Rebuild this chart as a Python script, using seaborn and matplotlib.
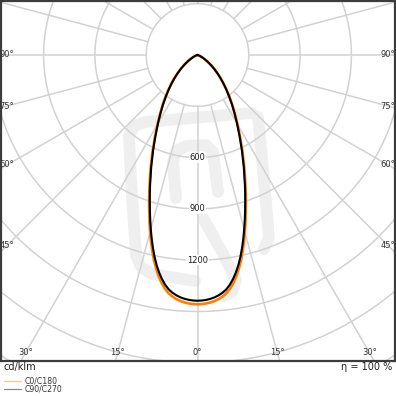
import numpy as np
import pandas as pd
import matplotlib
matplotlib.use("Agg")
import matplotlib.pyplot as plt
import seaborn as sns
from matplotlib.lines import Line2D

# ---------------- data (cd/klm) ----------------
angles = [0, 1, 2, 3, 4, 5, 6, 7, 8, 9, 10, 11, 12, 13, 14, 15, 16, 17, 18, 19, 20,
          22.5, 25, 27.5, 30, 32.5, 35, 37.5, 40, 42.5, 45, 47.5, 50, 52.5, 55, 57.5,
          60, 62.5, 65, 67.5, 70, 72.5, 75, 80, 85, 90]
c0_c180 = [1458, 1457, 1454, 1449, 1442, 1432, 1419, 1402, 1378, 1348, 1312, 1271, 1226,
           1176, 1124, 1071, 1018, 966, 916, 868, 822,
           717, 622, 539, 468, 407, 355, 306, 264, 225, 191, 159, 131, 106, 83, 64,
           48, 35, 24, 16, 10, 6, 3, 1, 0, 0]
c90_c270 = [1437, 1436, 1433, 1428, 1421, 1411, 1398, 1381, 1357, 1327, 1292, 1252, 1207,
            1158, 1107, 1055, 1003, 952, 903, 856, 811,
            707, 614, 532, 462, 402, 350, 302, 260, 222, 188, 157, 129, 104, 82, 63,
            47, 34, 24, 16, 10, 6, 3, 1, 0, 0]
series_names = ["C0/C180", "C90/C270"]
series_colors = ["#ff8000", "#000000"]
legend_colors = ["#ffc58a", "#8a8a8a"]
ring_values = [300, 600, 900, 1200, 1500, 1800, 2100, 2400, 2700, 3000]
ring_labels = [600, 900, 1200]
bottom_angle_labels = [0, 15, 30]
side_angle_labels = [45, 60, 75, 90]
unit_label = "cd/klm"
efficiency_label = "η = 100 %"

# ---------------- figure geometry ----------------
W = H = 396
DPI = 100
K = 0.171            # pixels per cd/klm
CX, CY = 197.5, 55.0  # pixel position of polar centre
FL, FR, FT, FB = 1, 395, 1, 361  # frame in pixels (top-left origin)

sns.set_style("white")
plt.rcParams["font.family"] = ["DejaVu Sans"]

fig = plt.figure(figsize=(W / DPI, H / DPI), dpi=DPI)
ax = fig.add_axes([FL / W, 1 - FB / H, (FR - FL) / W, (FB - FT) / H])
ax.set_xlim((FL - CX) / K, (FR - CX) / K)
ax.set_ylim(-(FB - CY) / K, (CY - FT) / K)
ax.set_xticks([])
ax.set_yticks([])
for s in ax.spines.values():
    s.set_color("#3c3c3c")
    s.set_linewidth(1.6)
    s.set_zorder(10)


def px2data(px, py):
    return (px - CX) / K, -(py - CY) / K


# ---------------- faint watermark ----------------
wm_paths = [
    [(252, 113), (145, 122), (134, 126), (129, 136), (131, 180), (136, 255), (141, 267),
     (152, 274), (195, 281)],
    [(258, 117), (264, 180), (269, 238), (264, 249)],
    [(176, 198), (173, 162), (176, 151), (186, 146), (206, 145), (213, 152), (218, 192)],
    [(203, 218), (222, 252), (236, 280), (232, 292), (224, 296)],
]
for path in wm_paths:
    pts = np.array([px2data(*p) for p in path])
    ax.plot(pts[:, 0], pts[:, 1], color="#efefef", lw=8.5,
            solid_capstyle="round", solid_joinstyle="round", zorder=0.5)

# ---------------- polar grid ----------------
t = np.radians(np.linspace(0, 360, 721))
for r in ring_values:
    ax.plot(r * np.sin(t), -r * np.cos(t), color="#d2d2d2", lw=1.1, zorder=1)
for a in range(0, 360, 15):
    ar = np.radians(a)
    ax.plot([300 * np.sin(ar), 3000 * np.sin(ar)],
            [-300 * np.cos(ar), -3000 * np.cos(ar)],
            color="#d2d2d2", lw=1.1, zorder=1)

# ---------------- curves ----------------
rows = []
for name, vals in zip(series_names, [c0_c180, c90_c270]):
    th = [-a for a in angles[::-1]] + angles[1:]
    iv = vals[::-1] + vals[1:]
    for a, v in zip(th, iv):
        rr = np.radians(a)
        rows.append({"series": name, "x": v * np.sin(rr), "y": -v * np.cos(rr)})
df = pd.DataFrame(rows)
for name, col, lw in zip(series_names, series_colors, [1.9, 1.5]):
    sub = df[df["series"] == name]
    sns.lineplot(data=sub, x="x", y="y", sort=False, estimator=None,
                 color=col, lw=lw, ax=ax, zorder=3)
ax.set_xlabel("")
ax.set_ylabel("")

# ---------------- labels ----------------
for v in ring_labels:
    ax.text(0, -v, str(v), ha="center", va="center", fontsize=6, color="#1a1a1a",
            bbox=dict(fc="white", ec="none", pad=0.4), zorder=2)

X_in = (CX - 7) / K
Y_in = (353 - CY) / K
for a in side_angle_labels:
    ar = np.radians(a)
    y = -X_in * np.cos(ar) / np.sin(ar)
    for side in (-1, 1):
        ax.text(side * X_in, y, f"{a}°", ha="center", va="center",
                fontsize=6, color="#333333", zorder=4)
for a in bottom_angle_labels:
    ar = np.radians(a)
    sides = (1,) if a == 0 else (-1, 1)
    for side in sides:
        ax.text(side * Y_in * np.tan(ar), -Y_in, f"{a}°", ha="center", va="center",
                fontsize=6, color="#333333", zorder=4)

# ---------------- legend below frame ----------------
fig.text(4 / W, 1 - 367 / H, unit_label, ha="left", va="center", fontsize=7, color="#222222")
fig.text(392 / W, 1 - 367 / H, efficiency_label, ha="right", va="center", fontsize=7, color="#222222")
for i, (name, col) in enumerate(zip(series_names, legend_colors)):
    yy = 1 - (381 + 7.5 * i) / H
    fig.add_artist(Line2D([4 / W, 21 / W], [yy, yy], color=col, lw=0.9,
                          transform=fig.transFigure))
    fig.text(25 / W, yy, name, ha="left", va="center", fontsize=5.6, color="#333333")

fig.savefig("out.png", dpi=DPI)
